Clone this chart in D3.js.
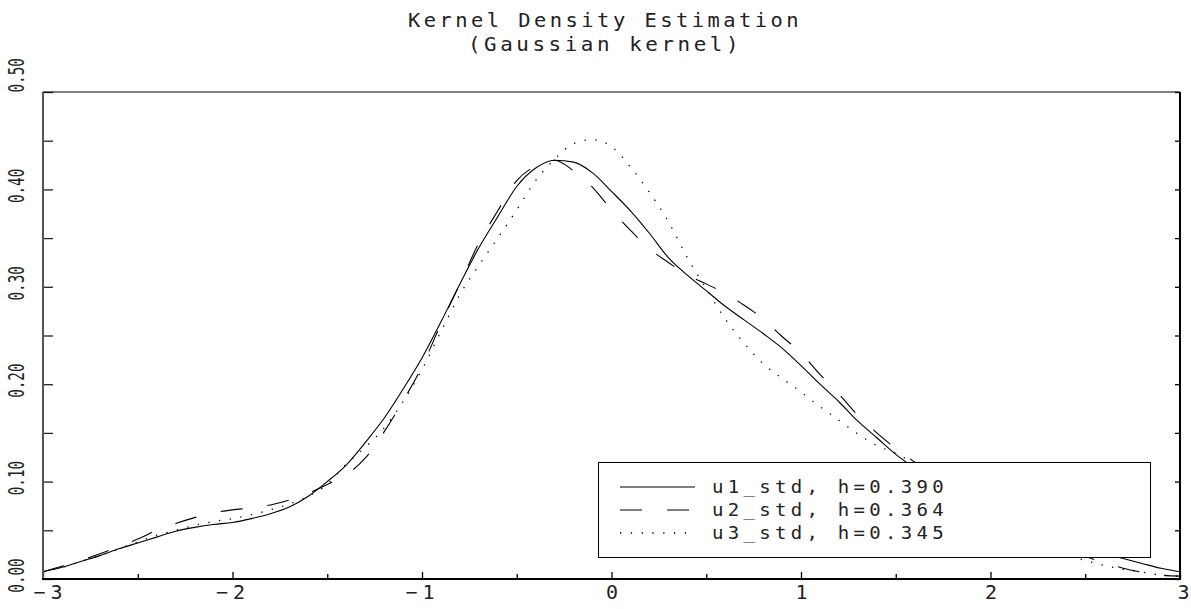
<!DOCTYPE html>
<html>
<head>
<meta charset="utf-8">
<script src="https://cdn.jsdelivr.net/npm/d3@7"></script>
<style>
  html, body { margin: 0; padding: 0; background: #fff; }
  svg { display: block; }
  text { font-family: "DejaVu Sans Mono", monospace; fill: #222; }
</style>
</head>
<body>
<svg id="chart" width="1191" height="609"></svg>
<script>
// ---- data ----
const titleLines = ["Kernel Density Estimation", "(Gaussian kernel)"];
const xGrid = d3.range(61).map(i => +(-3 + i * 0.1).toFixed(1));
const u1 = [0.0075,0.012,0.018,0.024,0.031,0.037,0.043,0.049,0.053,0.056,
            0.058,0.062,0.067,0.074,0.085,0.100,0.117,0.140,0.165,0.195,
            0.227,0.264,0.303,0.340,0.372,0.403,0.422,0.430,0.428,0.417,
            0.398,0.378,0.355,0.330,0.312,0.296,0.280,0.266,0.252,0.237,
            0.219,0.200,0.182,0.162,0.145,0.128,0.114,0.101,0.089,0.078,
            0.068,0.059,0.051,0.044,0.037,0.031,0.026,0.021,0.016,0.011,0.0075];
const u2 = [0.0075,0.013,0.019,0.026,0.033,0.041,0.050,0.057,0.063,0.068,
            0.071,0.073,0.076,0.081,0.088,0.097,0.107,0.124,0.151,0.183,
            0.218,0.262,0.303,0.345,0.378,0.409,0.424,0.430,0.419,0.402,
            0.379,0.358,0.339,0.325,0.312,0.303,0.293,0.281,0.267,0.249,
            0.232,0.210,0.190,0.168,0.150,0.134,0.120,0.107,0.095,0.083,
            0.071,0.060,0.050,0.040,0.031,0.023,0.017,0.011,0.007,0.004,0.003];
const u3 = [0.007,0.012,0.018,0.024,0.031,0.038,0.045,0.050,0.055,0.059,
            0.062,0.066,0.071,0.077,0.085,0.097,0.118,0.135,0.155,0.182,
            0.215,0.254,0.292,0.322,0.350,0.379,0.409,0.431,0.447,0.451,
            0.444,0.423,0.397,0.367,0.330,0.298,0.267,0.242,0.221,0.206,
            0.192,0.177,0.163,0.149,0.137,0.129,0.118,0.104,0.090,0.076,
            0.062,0.050,0.040,0.032,0.025,0.019,0.014,0.010,0.007,0.004,0.003];
const seriesNames = ["u1_std, h=0.390", "u2_std, h=0.364", "u3_std, h=0.345"];
const xTicks = [-3, -2, -1, 0, 1, 2, 3];
const xMinorTicks = [-2.5, -1.5, -0.5, 0.5, 1.5, 2.5];
const yTicks = [0, 0.1, 0.2, 0.3, 0.4, 0.5];
const yMinorTicks = [0.05, 0.15, 0.25, 0.35, 0.45];

// ---- layout ----
const svg = d3.select("#chart");
const L = 43, R = 1180, T = 92, B = 579;
const x = d3.scaleLinear().domain([-3, 3]).range([L, R]);
const y = d3.scaleLinear().domain([0, 0.5]).range([B, T]);

// title
const titleLen = [394, 274];
svg.selectAll("text.title").data(titleLines).enter().append("text")
  .attr("class", "title")
  .attr("x", 605).attr("y", (d, i) => 27 + i * 24)
  .attr("text-anchor", "middle")
  .attr("textLength", (d, i) => titleLen[i]).attr("lengthAdjust", "spacingAndGlyphs")
  .style("font-size", "20px").style("letter-spacing", "3.4px")
  .text(d => d);

// curves
const line = d3.line().x((d, i) => x(xGrid[i])).y(d => y(d)).curve(d3.curveMonotoneX);
const styles = [
  { dash: null, w: 1.1 },
  { dash: "22,25", w: 1.1 },
  { dash: "1.3,9.5", w: 1.3 }
];
[u1, u2, u3].forEach((s, k) => {
  svg.append("path").datum(s)
    .attr("d", line)
    .attr("fill", "none").attr("stroke", "#000")
    .attr("stroke-width", styles[k].w)
    .attr("stroke-dasharray", styles[k].dash);
});

// axes
const gx = svg.append("g").attr("transform", `translate(0,${B})`);
gx.call(d3.axisBottom(x).tickValues(xTicks).tickSize(-7)
  .tickFormat(d => d < 0 ? "\u2212" + Math.abs(d) : String(d)));
gx.append("g").call(d3.axisBottom(x).tickValues(xMinorTicks).tickSize(-5).tickFormat(""));
gx.selectAll(".domain").remove();
gx.selectAll("line").attr("stroke", "#000").attr("stroke-width", 1.3);
gx.selectAll("text").attr("fill", "#222")
  .attr("y", 13).attr("dy", "0.35em")
  .attr("x", d => d === -3 ? 7 : (d === 3 ? 3 : 0))
  .attr("font-size", 20)
  .style("font-family", "DejaVu Sans Mono")
  .style("font-size", "20px").style("letter-spacing", d => d < 0 ? "5px" : "0px");

const gy = svg.append("g").attr("transform", `translate(${L},0)`);
gy.call(d3.axisLeft(y).tickValues(yTicks.concat(yMinorTicks)).tickSize(-10)
  .tickFormat(d => yTicks.includes(d) ? d3.format(".2f")(d) : ""));
gy.selectAll(".domain").remove();
gy.selectAll("line").attr("stroke", "#222").attr("stroke-width", 1.3);
gy.selectAll("text")
  .attr("x", null).attr("dy", "0.36em")
  .attr("text-anchor", d => d === 0.5 ? "start" : "middle")
  .attr("transform", d => d === 0.5
    ? "translate(-27,0) rotate(-90) scale(0.68,1)"
    : "translate(-27,-4) rotate(-90) scale(0.68,1)")
  .attr("font-size", 21)
  .attr("fill", "#222").style("font-family", "DejaVu Sans Mono").style("font-size", "21px");

const gr = svg.append("g").attr("transform", `translate(${R},0)`);
gr.call(d3.axisRight(y).tickValues(yTicks.concat(yMinorTicks)).tickSize(-5).tickFormat(""));
gr.selectAll(".domain").remove();
gr.selectAll("line").attr("stroke", "#000").attr("stroke-width", 1.3);

// frame
svg.append("line").attr("x1", L).attr("x2", R).attr("y1", T).attr("y2", T).attr("stroke", "#000").attr("stroke-width", 1.2);
svg.append("line").attr("x1", L).attr("x2", L).attr("y1", T).attr("y2", B).attr("stroke", "#555").attr("stroke-width", 2);
svg.append("line").attr("x1", R).attr("x2", R).attr("y1", T).attr("y2", B + 1).attr("stroke", "#000").attr("stroke-width", 2);
svg.append("line").attr("x1", L - 1).attr("x2", R + 1).attr("y1", B).attr("y2", B).attr("stroke", "#000").attr("stroke-width", 2.2);

// legend
const lg = svg.append("g");
lg.append("rect").attr("x", 598.5).attr("y", 462.5).attr("width", 552).attr("height", 95)
  .attr("fill", "#fff").attr("stroke", "#000").attr("stroke-width", 1);
seriesNames.forEach((name, k) => {
  const cy = 487 + k * 23;
  lg.append("line").attr("x1", 620).attr("x2", 695).attr("y1", cy).attr("y2", cy)
    .attr("stroke", "#000").attr("stroke-width", styles[k].w)
    .attr("stroke-dasharray", styles[k].dash);
  lg.append("text").attr("x", 712).attr("y", cy).attr("dy", "0.36em")
    .attr("textLength", 236).attr("lengthAdjust", "spacingAndGlyphs")
    .style("font-size", "17px").style("letter-spacing", "3.85px")
    .text(name);
});
</script>
</body>
</html>
